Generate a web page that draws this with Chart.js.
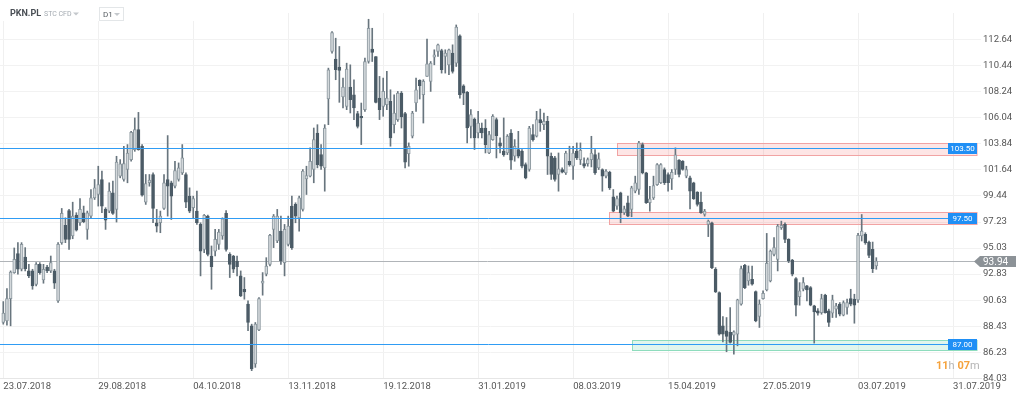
<!DOCTYPE html>
<html>
<head>
<meta charset="utf-8">
<script src="https://cdn.jsdelivr.net/npm/chart.js@4.4.1/dist/chart.umd.min.js"></script>
<style>
  html, body { margin: 0; padding: 0; background: #fff; }
  canvas { display: block; }
</style>
</head>
<body>
<canvas id="chart" width="1024" height="397"></canvas>
<script>
// daily candles, PKN.PL, 23.07.2018 .. 03.07.2019 (one entry per session)
var opens = [
  88.74, 88.88, 90.76, 92.96, 94.56, 93.24, 94.28, 93.10, 93.10, 91.97,
  93.66, 92.34, 93.43, 93.10, 93.10, 90.57, 95.49, 96.95, 98.21, 96.05,
  97.82, 97.17, 98.02, 96.61, 97.73, 99.28, 99.56, 100.83, 98.30, 98.16,
  99.70, 98.30, 101.11, 100.83, 101.67, 102.51, 103.35, 105.04, 103.64, 98.91,
  100.55, 101.25, 97.17, 97.17, 98.38, 100.83, 100.55, 100.26, 100.83, 101.39,
  101.25, 99.42, 98.44, 98.16, 97.03, 94.92, 97.73, 94.36, 94.78, 95.35,
  96.05, 97.96, 94.50, 94.36, 93.94, 92.68, 91.55, 90.29, 88.46, 85.23,
  88.12, 92.06, 92.82, 93.66, 96.61, 95.63, 96.47, 93.80, 95.35, 98.58,
  98.72, 97.59, 98.30, 100.88, 101.11, 101.67, 104.76, 102.93, 101.81, 107.63,
  111.65, 111.00, 110.33, 107.80, 107.01, 108.64, 107.99, 106.39, 106.17, 106.73,
  110.80, 111.84, 111.22, 107.71, 107.01, 107.15, 107.43, 105.46, 105.89, 108.13,
  106.39, 103.02, 104.48, 107.29, 109.20, 107.99, 109.54, 109.12, 111.17, 111.65,
  111.73, 111.22, 110.52, 111.51, 110.66, 112.97, 108.75, 108.19, 105.32, 105.94,
  104.76, 105.18, 105.18, 103.07, 104.20, 105.89, 103.92, 103.22, 103.07, 104.76,
  102.79, 103.36, 103.22, 102.09, 101.67, 104.62, 104.48, 105.89, 105.46, 105.74,
  102.79, 102.65, 101.25, 101.67, 101.39, 102.37, 101.95, 103.22, 102.51, 102.17,
  102.17, 102.51, 102.93, 101.81, 101.67, 101.11, 101.44, 99.36, 98.58, 99.70,
  98.02, 98.86, 98.30, 99.84, 99.98, 103.78, 101.39, 98.86, 99.28, 100.40,
  100.55, 101.67, 101.25, 100.88, 101.67, 102.46, 102.37, 101.11, 100.97, 100.55,
  99.76, 98.91, 97.87, 97.03, 97.17, 93.24, 91.27, 88.46, 88.04, 87.90,
  87.67, 87.76, 90.29, 93.57, 92.25, 92.39, 91.35, 89.25, 90.76, 91.49,
  92.25, 94.50, 94.08, 96.75, 97.03, 95.77, 94.02, 92.45, 90.93, 91.55,
  91.83, 91.69, 90.15, 89.72, 89.58, 91.05, 89.72, 89.53, 89.87, 90.29,
  89.36, 90.01, 90.76, 90.71, 90.65, 96.05, 96.19, 95.54, 94.92, 93.52
];
var highs = [
  90.51, 91.61, 93.10, 95.04, 95.49, 95.49, 95.07, 93.66, 93.24, 93.80,
  93.80, 93.66, 93.57, 94.36, 93.24, 95.49, 98.38, 97.59, 98.30, 98.91,
  98.02, 99.22, 98.58, 98.16, 99.98, 100.83, 101.95, 101.53, 98.44, 100.55,
  100.69, 102.79, 102.51, 103.64, 103.78, 104.90, 106.03, 106.50, 103.78, 101.25,
  101.25, 101.39, 98.30, 98.16, 101.25, 104.54, 100.69, 102.37, 102.23, 103.78,
  101.39, 100.12, 99.42, 99.84, 97.17, 97.87, 97.82, 95.21, 96.61, 96.61,
  97.59, 98.21, 94.64, 94.42, 94.36, 93.10, 92.54, 90.57, 88.60, 88.74,
  90.85, 92.96, 94.22, 96.19, 97.87, 98.30, 97.73, 97.03, 97.73, 99.42,
  98.86, 99.42, 101.67, 101.95, 103.50, 105.18, 105.46, 103.78, 105.46, 110.24,
  113.33, 112.77, 112.07, 109.40, 110.66, 110.52, 109.26, 106.59, 107.29, 111.08,
  114.37, 113.61, 111.22, 109.54, 109.40, 109.96, 108.41, 107.99, 108.27, 108.27,
  106.50, 103.92, 106.59, 109.40, 109.26, 109.26, 112.69, 110.80, 111.79, 112.27,
  111.84, 111.79, 111.84, 112.21, 113.89, 113.05, 108.84, 108.27, 106.73, 106.03,
  106.59, 105.60, 105.89, 104.90, 106.31, 106.03, 104.34, 106.03, 104.62, 105.04,
  104.20, 104.90, 103.36, 102.23, 105.32, 105.46, 106.59, 106.78, 106.45, 106.17,
  103.07, 102.79, 103.07, 101.81, 103.22, 103.64, 103.64, 103.92, 103.92, 102.65,
  102.65, 104.48, 103.36, 103.07, 101.73, 101.67, 101.53, 99.98, 99.42, 99.76,
  98.58, 99.42, 100.26, 101.11, 104.06, 103.92, 101.44, 100.26, 101.11, 102.17,
  102.17, 101.81, 101.39, 101.67, 103.50, 102.51, 102.43, 101.95, 101.11, 100.60,
  99.80, 99.76, 98.30, 97.40, 97.23, 93.38, 91.33, 89.25, 89.16, 90.00,
  88.04, 90.71, 93.52, 93.66, 93.52, 93.52, 91.41, 90.65, 91.41, 96.27,
  94.87, 95.91, 97.03, 97.31, 97.17, 95.82, 94.08, 92.54, 92.11, 92.54,
  91.89, 91.78, 90.20, 89.92, 91.13, 91.13, 89.87, 91.05, 90.37, 90.43,
  90.57, 90.71, 91.55, 91.13, 96.27, 97.87, 96.33, 95.63, 95.54, 94.22
];
var lows = [
  88.60, 88.52, 88.46, 92.90, 92.82, 93.10, 93.10, 92.54, 91.55, 91.83,
  92.82, 92.06, 92.96, 92.96, 91.61, 90.43, 95.35, 95.49, 94.92, 95.82,
  96.47, 96.95, 97.17, 95.77, 97.59, 99.14, 98.58, 98.02, 96.61, 98.02,
  97.87, 97.23, 100.97, 100.69, 100.55, 102.37, 103.21, 103.30, 99.42, 98.72,
  100.26, 97.17, 96.39, 96.33, 98.30, 97.73, 97.45, 100.12, 100.69, 101.25,
  98.44, 98.02, 97.59, 97.03, 92.68, 94.64, 94.36, 91.55, 94.36, 94.92,
  95.77, 94.78, 92.54, 92.96, 92.68, 90.93, 90.71, 88.04, 84.67, 84.95,
  88.04, 91.05, 92.68, 93.52, 95.07, 95.49, 93.66, 92.68, 95.21, 94.92,
  97.17, 96.47, 98.16, 99.56, 101.05, 100.55, 101.81, 101.67, 99.84, 105.46,
  111.51, 109.26, 107.35, 106.87, 106.73, 106.45, 105.89, 105.18, 103.78, 106.59,
  110.66, 110.80, 107.29, 105.89, 106.17, 106.73, 103.64, 104.76, 105.74, 105.18,
  101.81, 101.95, 104.34, 106.59, 107.63, 105.60, 109.54, 108.27, 110.52, 111.22,
  109.82, 109.82, 109.68, 109.82, 110.38, 107.71, 107.15, 103.92, 104.34, 103.36,
  104.34, 104.34, 103.07, 103.02, 104.14, 102.65, 103.07, 102.79, 102.93, 101.67,
  102.37, 102.65, 101.81, 100.88, 101.53, 104.06, 104.42, 104.90, 105.04, 101.25,
  100.83, 100.69, 99.84, 101.39, 101.25, 101.95, 100.83, 102.51, 102.09, 101.81,
  101.95, 101.89, 101.25, 101.67, 99.84, 100.97, 99.98, 98.10, 98.30, 97.17,
  97.87, 97.68, 97.68, 99.70, 99.56, 101.30, 98.80, 98.16, 99.14, 100.32,
  100.49, 100.40, 99.84, 99.98, 101.25, 101.05, 101.61, 100.97, 98.35, 99.14,
  98.58, 97.96, 97.73, 96.00, 93.29, 91.27, 87.67, 87.11, 86.27, 87.00,
  86.07, 86.77, 90.20, 91.60, 91.89, 91.89, 88.80, 88.32, 90.71, 91.41,
  92.17, 94.36, 93.10, 96.61, 95.49, 93.80, 92.68, 89.30, 90.20, 91.41,
  90.57, 90.15, 87.00, 89.36, 89.44, 89.53, 88.40, 89.16, 89.16, 89.30,
  89.30, 89.44, 90.15, 88.68, 90.43, 95.63, 95.35, 94.22, 92.96, 93.24
];
var closes = [
  89.53, 90.76, 93.01, 94.08, 93.24, 95.35, 93.29, 92.68, 91.83, 93.66,
  92.96, 93.24, 93.10, 93.80, 92.06, 95.35, 97.96, 95.77, 95.77, 97.73,
  96.55, 98.30, 97.26, 98.02, 99.28, 100.12, 100.40, 98.58, 97.40, 99.84,
  97.96, 102.29, 102.15, 102.17, 103.07, 104.82, 105.04, 103.35, 99.51, 100.49,
  100.77, 98.38, 96.89, 97.73, 100.55, 100.26, 99.42, 101.58, 101.81, 102.65,
  98.91, 98.16, 99.22, 97.17, 94.78, 97.79, 94.50, 93.46, 95.77, 96.39,
  97.51, 94.92, 93.66, 93.24, 93.46, 90.99, 91.33, 88.74, 84.81, 88.60,
  90.76, 92.25, 93.52, 96.10, 97.73, 97.73, 93.94, 96.61, 96.89, 95.07,
  97.73, 99.28, 101.53, 101.16, 102.37, 104.20, 102.09, 101.95, 105.18, 110.10,
  113.25, 110.10, 110.04, 108.64, 110.16, 107.57, 106.87, 105.32, 106.03, 110.80,
  113.61, 111.56, 107.35, 106.73, 108.27, 107.71, 104.34, 106.45, 108.13, 106.11,
  102.29, 103.64, 106.45, 108.41, 108.75, 109.12, 110.61, 110.66, 111.37, 112.21,
  110.10, 111.51, 111.79, 109.96, 113.70, 107.99, 108.13, 105.18, 106.31, 104.34,
  105.60, 104.76, 103.78, 104.62, 106.17, 104.54, 103.64, 102.93, 104.48, 102.46,
  103.64, 102.79, 101.95, 100.97, 105.18, 104.20, 105.89, 105.60, 105.74, 102.79,
  101.25, 100.83, 101.73, 101.44, 103.07, 102.09, 103.07, 102.65, 103.30, 101.95,
  102.51, 103.07, 101.39, 102.57, 101.11, 101.53, 100.12, 98.16, 99.22, 98.02,
  98.35, 97.73, 100.12, 100.55, 103.92, 101.39, 98.86, 99.20, 100.32, 102.09,
  102.09, 100.55, 100.55, 101.44, 102.91, 101.25, 101.67, 101.67, 99.84, 99.20,
  98.72, 98.02, 98.16, 97.31, 93.38, 91.33, 87.76, 87.76, 87.56, 87.05,
  87.95, 90.65, 93.29, 91.69, 92.96, 91.97, 88.88, 90.29, 91.21, 93.74,
  94.78, 95.07, 96.89, 96.95, 95.77, 93.94, 92.82, 90.20, 91.41, 92.11,
  91.49, 90.20, 89.64, 89.53, 90.76, 89.58, 88.74, 90.65, 90.15, 89.44,
  90.43, 90.43, 90.29, 90.20, 96.10, 96.47, 95.49, 94.42, 93.29, 93.94
];

// axis ticks
var xTickIndex = [0, 26, 52, 78, 104, 130, 156, 182, 208, 234, 260];
var xTickLabels = ['23.07.2018', '29.08.2018', '04.10.2018', '13.11.2018', '19.12.2018',
  '31.01.2019', '08.03.2019', '15.04.2019', '27.05.2019', '03.07.2019', '31.07.2019'];
var yTicks = [84.03, 86.23, 88.43, 90.63, 92.83, 95.03, 97.23, 99.44, 101.64,
  103.84, 106.04, 108.24, 110.44, 112.64];

// drawn levels and zones
var levels = [103.50, 97.50, 87.00];
var lastPrice = 93.94;
var zoneStart = [168, 165.8, 172.1];
var zoneTop = [103.92, 98.10, 87.28];
var zoneBottom = [102.88, 97.09, 86.41];
var zoneKind = ['resist', 'resist', 'support'];

var UP = '#d3d8db';
var UP_EDGE = '#8b979e';
var DOWN = '#4b5b66';
var WICK = '#68757e';
var LEVEL = '#2f9cf4';
var FONT = 'Roboto, "Open Sans", sans-serif';

var wickData = lows.map(function(l, i) { return { x: i, y: [l, highs[i]] }; });
var bodyData = opens.map(function(o, i) { return { x: i, y: [o, closes[i]] }; });

function isUp(i) { return closes[i] >= opens[i]; }

// snap thin level lines to an even pixel row so they stay crisp and blue
function levelRow(ys, v) {
  return Math.round(ys.getPixelForValue(v) / 2) * 2;
}

var overlay = {
  id: 'overlay',
  beforeDatasetsDraw: function(chart) {
    var c = chart.ctx, a = chart.chartArea;
    var xs = chart.scales.x, ys = chart.scales.y;
    var rightEdge = a.right - 4;
    c.save();
    for (var k = 0; k < zoneStart.length; k++) {
      var x0 = Math.round(xs.getPixelForValue(zoneStart[k])) + 0.5;
      var y0 = Math.round(ys.getPixelForValue(zoneTop[k])) + 0.5;
      var y1 = Math.round(ys.getPixelForValue(zoneBottom[k])) + 0.5;
      if (zoneKind[k] === 'resist') {
        c.fillStyle = 'rgba(244, 110, 110, 0.18)';
        c.strokeStyle = '#f1a3a3';
      } else {
        c.fillStyle = 'rgba(60, 200, 140, 0.16)';
        c.strokeStyle = '#8edcbd';
      }
      c.fillRect(x0, y0, rightEdge - x0, y1 - y0);
      c.lineWidth = 1;
      c.strokeRect(x0, y0, rightEdge - x0, y1 - y0);
    }
    // last price line
    var py = Math.round(ys.getPixelForValue(lastPrice)) + 0.5;
    c.strokeStyle = '#b0b4b8';
    c.lineWidth = 1;
    c.beginPath();
    c.moveTo(a.left, py);
    c.lineTo(a.right - 6, py);
    c.stroke();
    c.restore();
  },
  afterDatasetsDraw: function(chart) {
    var c = chart.ctx, a = chart.chartArea;
    var ys = chart.scales.y;
    var rightEdge = a.right - 4;
    c.save();
    c.lineWidth = 1;
    c.strokeStyle = LEVEL;
    levels.forEach(function(v) {
      var y = levelRow(ys, v);
      c.beginPath();
      c.moveTo(a.left, y + 0.5);
      c.lineTo(rightEdge, y + 0.5);
      c.stroke();
    });
    c.restore();
  },
  afterDraw: function(chart) {
    var c = chart.ctx, a = chart.chartArea;
    var ys = chart.scales.y;
    var rightEdge = a.right - 4;
    c.save();
    // level badges
    c.font = '8px ' + FONT;
    c.textAlign = 'center';
    c.textBaseline = 'middle';
    levels.forEach(function(v) {
      var y = levelRow(ys, v);
      c.fillStyle = '#1f8ff5';
      c.fillRect(rightEdge - 29, y - 5, 29, 11);
      c.fillStyle = '#ffffff';
      c.fillText(v.toFixed(2), rightEdge - 14.5, y + 1);
    });
    // last price badge
    var py = Math.round(ys.getPixelForValue(lastPrice)) + 0.5;
    c.fillStyle = '#8c9297';
    c.beginPath();
    c.moveTo(a.right - 7, py);
    c.lineTo(a.right - 1, py - 5.5);
    c.lineTo(a.right + 35, py - 5.5);
    c.lineTo(a.right + 35, py + 5.5);
    c.lineTo(a.right - 1, py + 5.5);
    c.closePath();
    c.fill();
    c.fillStyle = '#ffffff';
    c.font = '10px ' + FONT;
    c.textAlign = 'left';
    c.fillText(lastPrice.toFixed(2), a.right + 2, py + 0.5);
    // countdown
    var parts = [['11', '#f5a23c', 'bold '], ['h ', '#b4b4b4', ''], ['07', '#f5a23c', 'bold '], ['m', '#b4b4b4', '']];
    var tx = 936;
    c.textBaseline = 'middle';
    parts.forEach(function(p) {
      c.font = p[2] + '11px ' + FONT;
      c.fillStyle = p[1];
      c.fillText(p[0], tx, 366);
      tx += c.measureText(p[0]).width;
    });
    // header
    c.fillStyle = '#ffffff';
    c.fillRect(0, 0, 196, 21);
    c.font = 'bold 9px ' + FONT;
    c.fillStyle = '#4a4f55';
    c.textAlign = 'left';
    c.fillText('PKN.PL', 10, 14);
    c.font = '7px ' + FONT;
    c.fillStyle = '#a3aab0';
    c.fillText('STC CFD', 44, 14);
    c.fillStyle = '#c4c8cc';
    c.beginPath();
    c.moveTo(73, 12.5); c.lineTo(79, 12.5); c.lineTo(76, 15.5); c.closePath(); c.fill();
    c.strokeStyle = '#e3e6e8';
    c.lineWidth = 1;
    c.strokeRect(99.5, 7.5, 24, 13);
    c.font = '8px ' + FONT;
    c.fillStyle = '#555b60';
    c.fillText('D1', 103, 14.5);
    c.fillStyle = '#c4c8cc';
    c.beginPath();
    c.moveTo(114, 13); c.lineTo(120, 13); c.lineTo(117, 16); c.closePath(); c.fill();
    c.restore();
  }
};

var ctx = document.getElementById('chart').getContext('2d');
new Chart(ctx, {
  type: 'bar',
  data: {
    datasets: [{
      data: wickData,
      backgroundColor: WICK,
      barThickness: 1,
      grouped: false,
      order: 2
    }, {
      data: bodyData,
      backgroundColor: function(c) { return isUp(c.dataIndex) ? UP : DOWN; },
      borderColor: function(c) { return isUp(c.dataIndex) ? UP_EDGE : DOWN; },
      borderWidth: 1,
      borderSkipped: false,
      barThickness: 3,
      grouped: false,
      order: 1
    }]
  },
  options: {
    responsive: false,
    animation: false,
    devicePixelRatio: 1,
    layout: { padding: { top: 13, left: 0, right: 0, bottom: 0 } },
    plugins: { legend: { display: false }, tooltip: { enabled: false } },
    scales: {
      x: {
        type: 'linear',
        min: -0.9,
        max: 267.66,
        offset: false,
        grid: { offset: false, color: '#f0f0f0', drawTicks: false },
        border: { color: '#e6e6e6' },
        afterBuildTicks: function(s) { s.ticks = xTickIndex.map(function(v) { return { value: v }; }); },
        afterFit: function(s) { s.height = 19; },
        ticks: {
          autoSkip: false, maxRotation: 0, align: 'start', padding: 3,
          font: { family: FONT, size: 9.5 }, color: '#555',
          callback: function(v, i) { return xTickLabels[i]; }
        }
      },
      y: {
        position: 'right',
        min: 84.05,
        max: 114.9,
        grid: { color: '#f2f2f2', drawTicks: false },
        border: { display: false },
        afterBuildTicks: function(s) { s.ticks = yTicks.map(function(v) { return { value: v }; }); },
        afterFit: function(s) { s.width = 43; },
        ticks: {
          padding: 2, font: { family: FONT, size: 9.5 }, color: '#555',
          callback: function(v) { return v.toFixed(2); }
        }
      }
    }
  },
  plugins: [overlay]
});
</script>
</body>
</html>
